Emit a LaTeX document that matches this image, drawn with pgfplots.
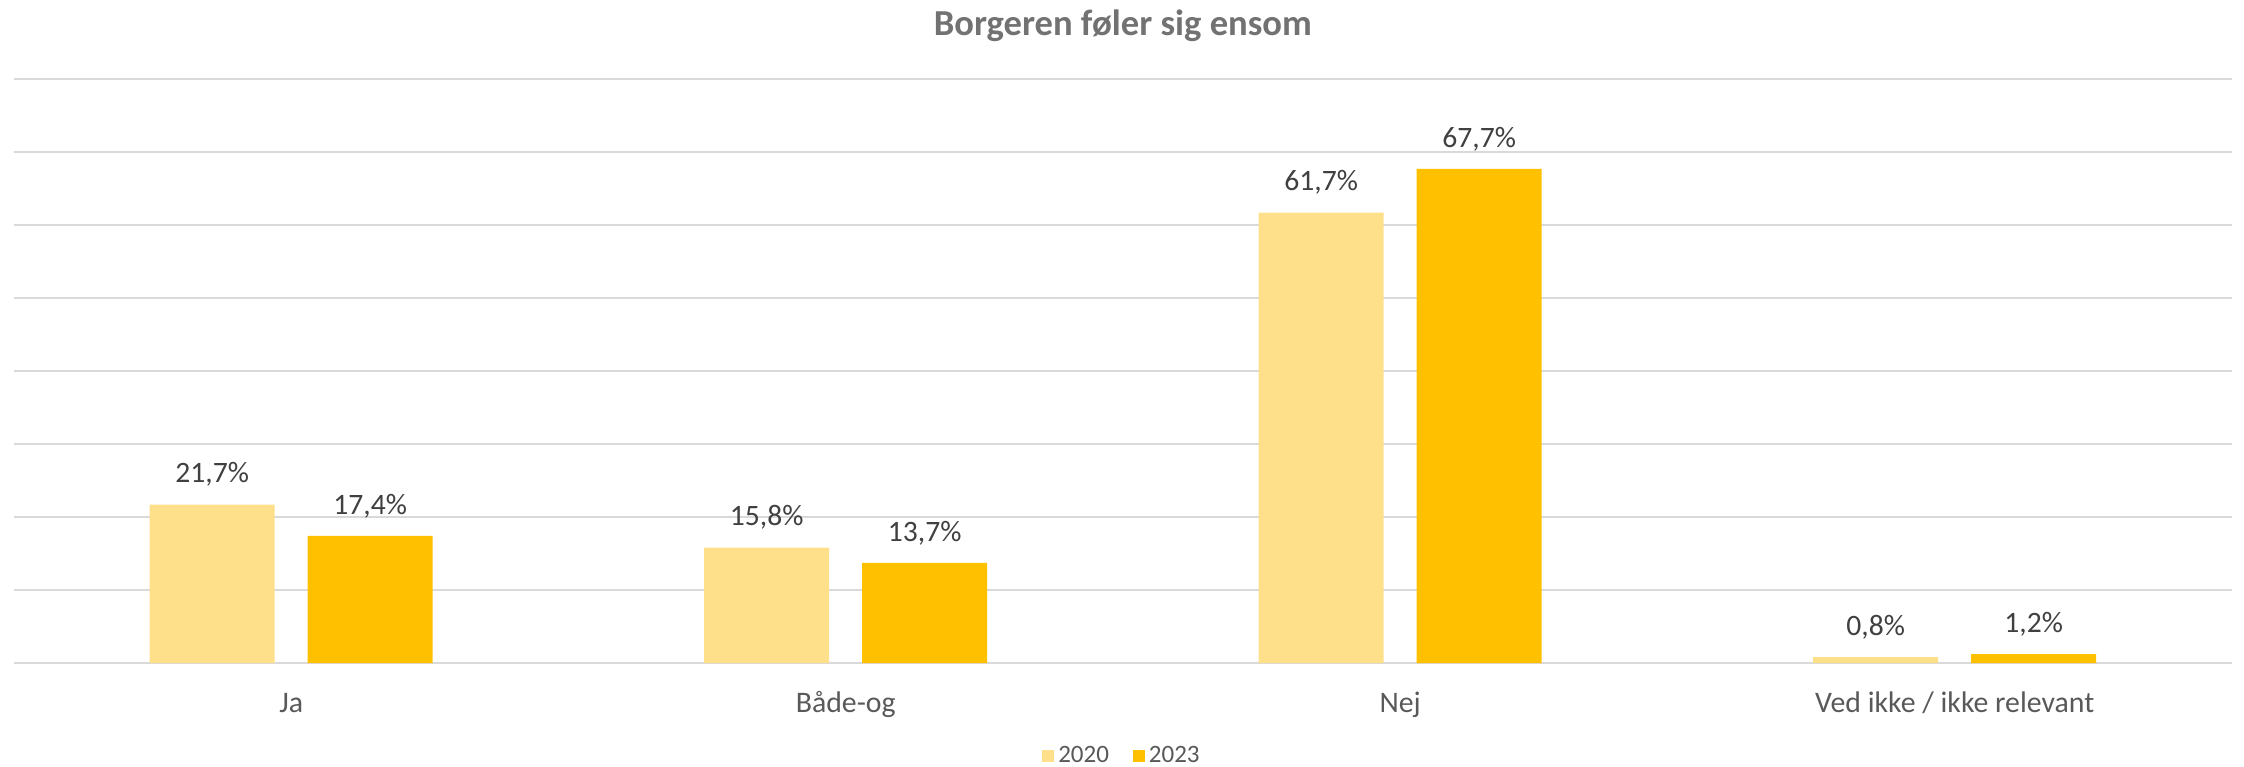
\documentclass[border=0pt]{standalone}
\usepackage{pgfplots}
\pgfplotsset{compat=1.18}
\usepackage{fontspec}
\setmainfont{Carlito}
\definecolor{c2020}{HTML}{FFE08A}
\definecolor{c2023}{HTML}{FFC000}
\definecolor{gridc}{HTML}{D9D9D9}
\definecolor{txt}{HTML}{595959}
\definecolor{lbl}{HTML}{404040}
\begin{document}
\begin{tikzpicture}
\path[use as bounding box] (-7pt,-51.5pt) rectangle (1115pt,331.5pt);
\begin{axis}[
  at={(0,0)}, anchor=south west,
  scale only axis, width=1109pt, height=292pt,
  ymin=0, ymax=80, xmin=-0.5, xmax=3.5,
  ytick={0,10,...,80}, yticklabels={},
  ymajorgrids, grid style={gridc, line width=1pt},
  axis line style={draw=none},
  major tick length=0pt,
  xtick={0,1,2,3},
  xticklabels={Ja,Både-og,Nej,Ved ikke / ikke relevant},
  xticklabel style={font=\fontsize{14.9}{17}\selectfont, text=txt, anchor=base, yshift=-24.5pt},
  title={Borgeren føler sig ensom},
  title style={font=\fontsize{18.3}{21}\selectfont\bfseries, text=txt!85!white, anchor=center, at={(0.5,1)}, yshift=20.5pt},
  ybar, bar width=62.5pt,
  /pgf/number format/assume math mode=true,
  nodes near coords={\pgfmathprintnumber[fixed,fixed zerofill,precision=1,use comma]{\pgfplotspointmeta}\%},
  nodes near coords style={font=\fontsize{14.8}{17}\selectfont, text=lbl, anchor=center, yshift=15pt},
  legend columns=2,
  legend style={draw=none, at={(0.5,0)}, anchor=center, yshift=-46.5pt, font=\fontsize{12.5}{15}\selectfont, text=txt, /tikz/every even column/.append style={column sep=10pt}},
  legend image code/.code={\fill[#1] (0pt,-3pt) rectangle (6pt,3pt);},
]
\addplot[fill=c2020, draw=none, bar shift=-39.5pt] coordinates {(0,21.7) (1,15.8) (2,61.7) (3,0.8)};
\addplot[fill=c2023, draw=none, bar shift=39.5pt] coordinates {(0,17.4) (1,13.7) (2,67.7) (3,1.2)};
\legend{2020,2023}
\end{axis}
\end{tikzpicture}
\end{document}
